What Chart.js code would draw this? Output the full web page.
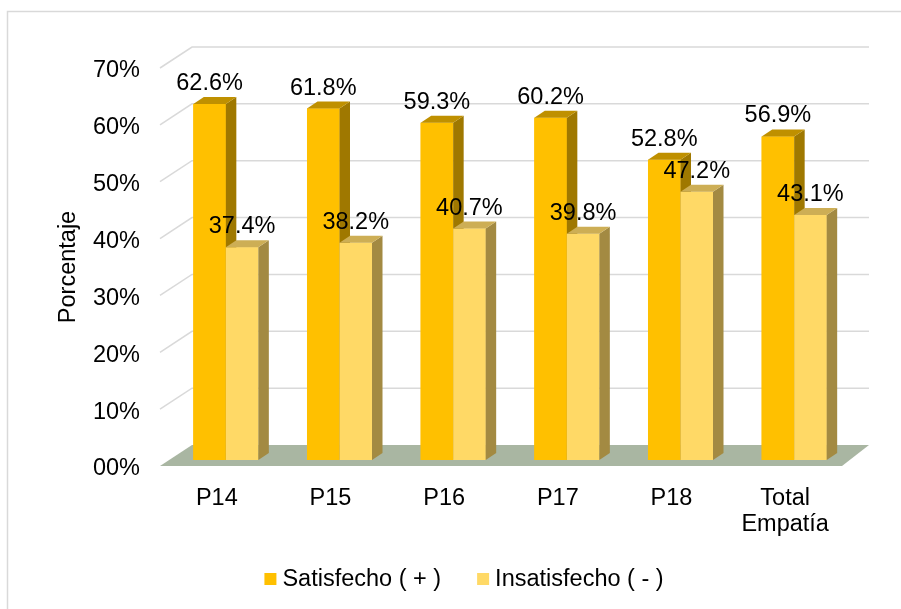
<!DOCTYPE html>
<html>
<head>
<meta charset="utf-8">
<script src="https://cdn.jsdelivr.net/npm/chart.js@4.4.1/dist/chart.umd.min.js"></script>
<style>
  html, body { margin: 0; padding: 0; background: #fff; }
  #wrap { width: 901px; height: 609px; position: relative; }
</style>
</head>
<body>
<div id="wrap"><canvas id="chart"></canvas></div>
<script>
// Data
const categories = ['P14', 'P15', 'P16', 'P17', 'P18', ['Total', 'Empatía']];
const satisfecho = [62.6, 61.8, 59.3, 60.2, 52.8, 56.9];
const insatisfecho = [37.4, 38.2, 40.7, 39.8, 47.2, 43.1];
const yTicks = [0, 10, 20, 30, 40, 50, 60, 70];

const FONT = '"Liberation Sans", Arial, Helvetica, sans-serif';
const FONT_SIZE = 23.5;
const TEXT = '#000000';
const GRID = '#d9d9d9';

// bars stand a bit behind the front edge of the floor
const BAR_SHIFT = { x: 9, y: -6 };
// depth of each bar box (top + side faces)
const BAR_DEPTH = { x: 10.5, y: -7 };
// depth of the floor / side wall
const WALL = { left: 32, right: 27, y: -21 };

function poly(ctx, pts) {
    ctx.beginPath();
    ctx.moveTo(pts[0][0], pts[0][1]);
    for (let i = 1; i < pts.length; i++) ctx.lineTo(pts[i][0], pts[i][1]);
    ctx.closePath();
    ctx.fill();
}

const threeD = {
    id: 'threeD',
    beforeDraw(chart) {
        const { ctx, width, height } = chart;
        ctx.save();
        ctx.fillStyle = '#fff';
        ctx.fillRect(0, 0, width, height);
        // outer frame
        ctx.strokeStyle = GRID;
        ctx.lineWidth = 1.5;
        ctx.beginPath();
        ctx.moveTo(7.5, height + 2);
        ctx.lineTo(7.5, 11.5);
        ctx.lineTo(width + 2, 11.5);
        ctx.stroke();
        ctx.restore();
    },
    beforeDatasetsDraw(chart) {
        const { ctx, chartArea: a, scales: { y } } = chart;
        ctx.save();
        // floor
        ctx.fillStyle = '#a9b6a2';
        poly(ctx, [
            [a.left, a.bottom],
            [a.right, a.bottom],
            [a.right + WALL.right, a.bottom + WALL.y],
            [a.left + WALL.left, a.bottom + WALL.y]
        ]);
        // gridlines on the side wall and back wall
        ctx.strokeStyle = GRID;
        ctx.lineWidth = 1.5;
        yTicks.forEach(v => {
            if (v === 0) return;
            const py = y.getPixelForValue(v);
            ctx.beginPath();
            ctx.moveTo(a.left, py);
            ctx.lineTo(a.left + WALL.left, py + WALL.y);
            ctx.lineTo(a.right + WALL.right, py + WALL.y);
            ctx.stroke();
        });
        ctx.restore();

        ctx.save();
        ctx.translate(BAR_SHIFT.x, BAR_SHIFT.y);
    },
    afterDatasetsDraw(chart) {
        const { ctx } = chart;
        const dx = BAR_DEPTH.x, dy = BAR_DEPTH.y;
        // boxes, first series first so the second one overlaps its side face
        chart.data.datasets.forEach((ds, i) => {
            chart.getDatasetMeta(i).data.forEach(bar => {
                const { x, y, base, width } = bar.getProps(['x', 'y', 'base', 'width'], true);
                const l = x - width / 2, r = x + width / 2;
                bar.draw(ctx);
                ctx.fillStyle = ds.sideColor;
                poly(ctx, [[r, y], [r + dx, y + dy], [r + dx, base + dy], [r, base]]);
                ctx.fillStyle = ds.topColor;
                poly(ctx, [[l, y], [l + dx, y + dy], [r + dx, y + dy], [r, y]]);
            });
        });

        // value labels
        ctx.font = FONT_SIZE + 'px ' + FONT;
        ctx.fillStyle = TEXT;
        ctx.textAlign = 'center';
        ctx.textBaseline = 'middle';
        chart.data.datasets.forEach((ds, i) => {
            chart.getDatasetMeta(i).data.forEach((bar, j) => {
                ctx.fillText(ds.data[j].toFixed(1) + '%', bar.x, bar.y - 20.5);
            });
        });
        ctx.restore();
    },
    afterDraw(chart) {
        // legend
        const { ctx } = chart;
        ctx.save();
        ctx.font = FONT_SIZE + 'px ' + FONT;
        ctx.textBaseline = 'middle';
        ctx.textAlign = 'left';
        const items = chart.data.datasets.map(ds => ({
            text: ds.label, color: ds.backgroundColor, w: 18 + ctx.measureText(ds.label).width
        }));
        const gap = 36;
        const total = items.reduce((s, it) => s + it.w, 0) + gap * (items.length - 1);
        let x = 464 - total / 2;
        const cy = 579;
        items.forEach(it => {
            ctx.fillStyle = it.color;
            ctx.fillRect(x, cy - 6, 12, 12);
            ctx.fillStyle = TEXT;
            ctx.fillText(it.text, x + 18, cy + 1);
            x += it.w + gap;
        });
        ctx.restore();
    }
};

const tickFont = { family: FONT, size: FONT_SIZE };

new Chart(document.getElementById('chart'), {
    type: 'bar',
    data: {
        labels: categories,
        datasets: [
            {
                label: 'Satisfecho ( + )',
                data: satisfecho,
                backgroundColor: '#ffc000',
                topColor: '#bf9000',
                sideColor: '#9f7800'
            },
            {
                label: 'Insatisfecho ( - )',
                data: insatisfecho,
                backgroundColor: '#ffd966',
                topColor: '#cdae55',
                sideColor: '#a38a42'
            }
        ]
    },
    options: {
        responsive: true,
        maintainAspectRatio: false,
        animation: false,
        categoryPercentage: 0.572,
        barPercentage: 1.0,
        layout: { padding: { top: 68, right: 59, left: 0, bottom: 0 } },
        plugins: {
            legend: { display: false },
            tooltip: { enabled: false }
        },
        scales: {
            x: {
                grid: { display: false, drawTicks: false },
                border: { display: false },
                ticks: {
                    font: { family: FONT, size: FONT_SIZE, lineHeight: 1.1 },
                    color: TEXT,
                    padding: 20,
                    maxRotation: 0,
                    autoSkip: false
                },
                afterFit(scale) { scale.height = 143; }
            },
            y: {
                min: 0,
                max: 70,
                grid: { display: false, drawTicks: false },
                border: { display: false },
                ticks: {
                    stepSize: 10,
                    font: tickFont,
                    color: TEXT,
                    padding: 20,
                    labelOffset: 3,
                    callback: v => (v < 10 ? '0' + v : v) + '%'
                },
                title: {
                    display: true,
                    text: 'Porcentaje',
                    font: tickFont,
                    color: TEXT,
                    padding: { top: 54, bottom: 0 }
                },
                afterFit(scale) { scale.width = 160; }
            }
        }
    },
    plugins: [threeD]
});
</script>
</body>
</html>
